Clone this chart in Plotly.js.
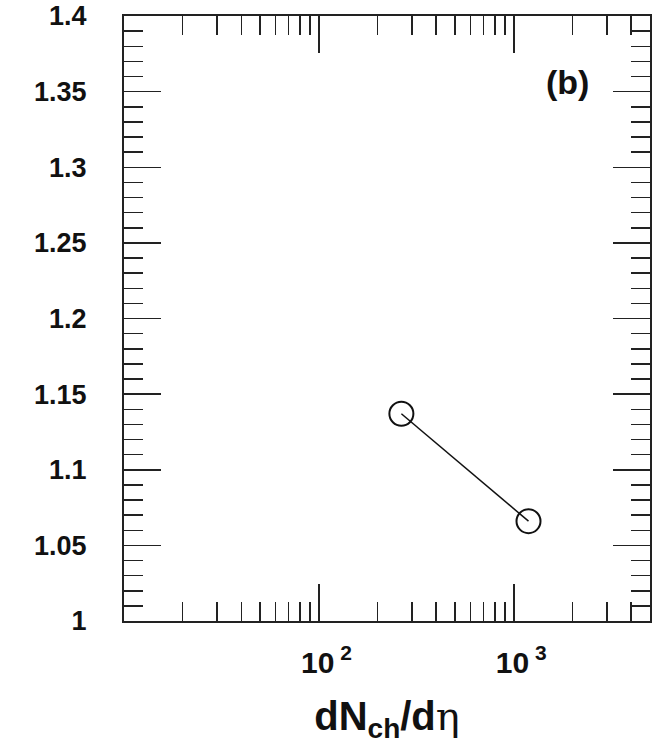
<!DOCTYPE html>
<html>
<head>
<meta charset="utf-8">
<script src="https://cdn.plot.ly/plotly-3.0.1.min.js"></script>
<style>
  html, body { margin: 0; padding: 0; background: #fff; overflow: hidden; }
  #plot { width: 652px; height: 748px; }
</style>
</head>
<body>
<div id="plot"></div>
<script>
// Measured points: charged-particle density vs. ratio
var dNchDeta = [265, 1190];
var ratio = [1.137, 1.066];

// Axis ticks
var yTickVals = [1, 1.05, 1.1, 1.15, 1.2, 1.25, 1.3, 1.35, 1.4];
var yTickText = ['1', '1.05', '1.1', '1.15', '1.2', '1.25', '1.3', '1.35', '1.4'];
var xTickVals = [100, 1000];
var xTickText = ['\u200210<sup> 2</sup>', '\u200210<sup> 3</sup>'];
var xMinorVals = [20, 30, 40, 50, 60, 70, 80, 90,
                  200, 300, 400, 500, 600, 700, 800, 900,
                  2000, 3000, 4000];

var axisColor = '#222';
var fam = 'Liberation Sans, Arial, sans-serif';

var trace = {
  x: dNchDeta,
  y: ratio,
  type: 'scatter',
  mode: 'lines+markers',
  line: { color: '#111', width: 1.5 },
  marker: { symbol: 'circle-open', size: 24, color: '#111', line: { width: 2, color: '#111' } },
  showlegend: false,
  hoverinfo: 'x+y'
};

var layout = {
  width: 652,
  height: 748,
  margin: { l: 124, r: 2, t: 16, b: 127 },
  paper_bgcolor: '#fff',
  plot_bgcolor: '#fff',
  xaxis: {
    type: 'log',
    range: [1, Math.log10(5000)],
    tickmode: 'array',
    tickvals: xTickVals,
    ticktext: xTickText,
    ticks: 'inside',
    ticklen: 37,
    tickwidth: 1.5,
    tickcolor: axisColor,
    minor: { tickmode: 'array', tickvals: xMinorVals, ticks: 'inside', ticklen: 19, tickwidth: 1.5, tickcolor: axisColor, showgrid: false },
    showline: true,
    linewidth: 2,
    linecolor: axisColor,
    mirror: 'allticks',
    showgrid: false,
    zeroline: false,
    tickfont: { family: fam, size: 30, color: '#111', weight: 'bold' },
    ticklabelstandoff: 14,
    title: {
      text: 'dN<sub>ch</sub>/d<span style="font-weight:normal;font-family:DejaVu Serif">η</span>',
      font: { family: fam, size: 40, color: '#111', weight: 'bold' },
      standoff: 24
    }
  },
  yaxis: {
    range: [1, 1.4],
    tickmode: 'array',
    tickvals: yTickVals,
    ticktext: yTickText,
    ticks: 'inside',
    ticklen: 37,
    tickwidth: 1.5,
    tickcolor: axisColor,
    minor: { dtick: 0.01, ticks: 'inside', ticklen: 19, tickwidth: 1.5, tickcolor: axisColor, showgrid: false },
    showline: true,
    linewidth: 2,
    linecolor: axisColor,
    mirror: 'allticks',
    showgrid: false,
    zeroline: false,
    tickfont: { family: fam, size: 27, color: '#111', weight: 'bold' },
    ticklabelstandoff: 30
  },
  annotations: [{
    xref: 'paper', yref: 'paper',
    x: 0.843, y: 0.891,
    xanchor: 'center', yanchor: 'middle',
    text: '(b)',
    showarrow: false,
    font: { family: fam, size: 34, color: '#111', weight: 'bold' }
  }]
};

Plotly.newPlot('plot', [trace], layout, { displayModeBar: false, staticPlot: true });
</script>
</body>
</html>
